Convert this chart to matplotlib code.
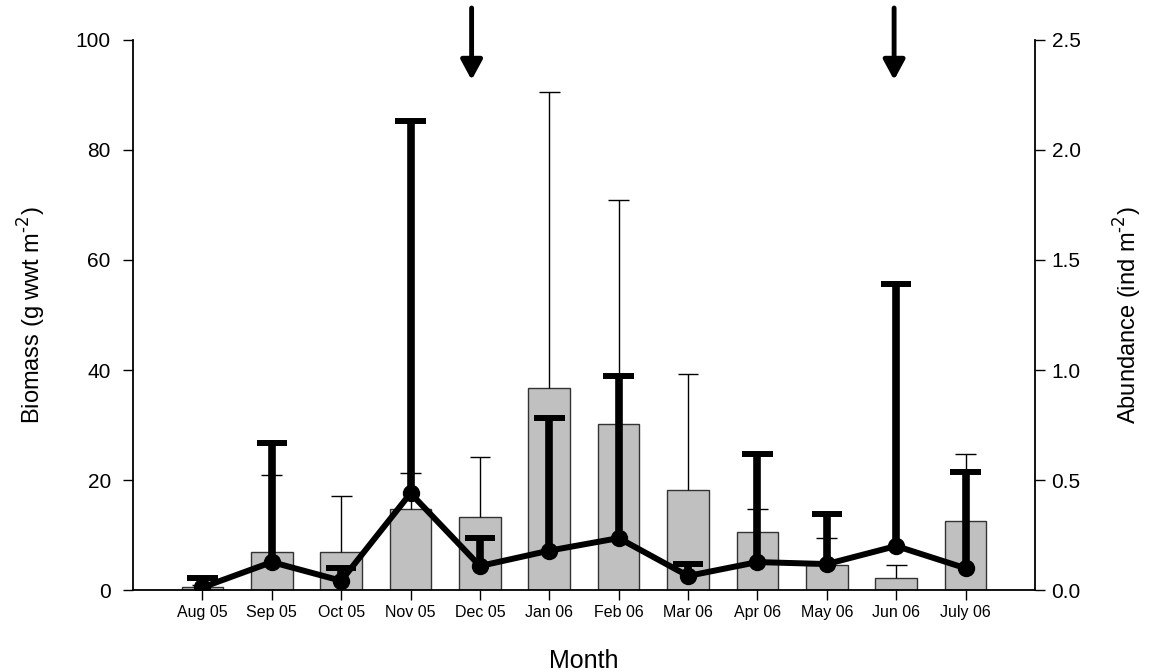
import matplotlib
matplotlib.use("Agg")
import matplotlib.pyplot as plt
import matplotlib.transforms as mtransforms
import numpy as np

## DATA
months = ["Aug 05", "Sep 05", "Oct 05", "Nov 05", "Dec 05", "Jan 06",
          "Feb 06", "Mar 06", "Apr 06", "May 06", "Jun 06", "July 06"]
biomass     = [0.6, 7.0, 6.9, 14.7, 13.2, 36.7, 30.1, 18.1, 10.5, 4.5, 2.1, 12.5]
biomass_err = [0.4, 13.9, 10.2, 6.6, 10.9, 53.9, 40.8, 21.2, 4.2, 4.9, 2.4, 12.3]
abundance     = [0.012, 0.127, 0.042, 0.44, 0.109, 0.179, 0.236, 0.064, 0.127, 0.118, 0.20, 0.099]
abundance_err = [0.043, 0.543, 0.058, 1.69, 0.129, 0.601, 0.739, 0.054, 0.493, 0.227, 1.19, 0.436]
arrow_months = [3.88, 9.97]  # sampling events marked above the plot
## / DATA

plt.rcParams['font.family'] = ['Liberation Sans', 'DejaVu Sans']


def upper_errorbars(axis, xs, means, errs, half_cap, lw, cap_lw, z):
    # one-sided (upper) error bars: stem from the mean plus a flat cap
    means = np.asarray(means); errs = np.asarray(errs)
    tops = means + errs
    axis.vlines(xs, means, tops, colors="black", linewidth=lw, zorder=z)
    axis.hlines(tops, xs - half_cap, xs + half_cap, colors="black",
                linewidth=cap_lw, zorder=z)


fig = plt.figure(figsize=(11.57, 6.72), dpi=100)
ax = fig.add_axes([0.115, 0.122, 0.7795, 0.8185])
x = np.arange(len(months))

# biomass bars with thin error bars
ax.bar(x, biomass, width=0.6, color="#c0c0c0", edgecolor="#333333", linewidth=1.0, zorder=2)
upper_errorbars(ax, x, biomass, biomass_err, 0.15, 1.0, 1.0, 3)

ax.set_xlim(-1, 12)
ax.set_ylim(0, 100)
ax.set_yticks([0, 20, 40, 60, 80, 100])
ax.set_xticks(x)
ax.set_xticklabels(months, fontsize=11.5)
ax.tick_params(axis="y", labelsize=15, length=7, width=1.0, direction="out", pad=9)
ax.tick_params(axis="x", length=7, width=1.0, direction="out", pad=4)
ax.set_ylabel("Biomass (g wwt m$^{\\text{-2}}$)", fontsize=17, labelpad=20)
ax.set_xlabel("Month", fontsize=18, labelpad=21)
for s in ["top", "right"]:
    ax.spines[s].set_visible(False)
ax.spines["left"].set_linewidth(1.3)
ax.spines["bottom"].set_linewidth(1.3)

# abundance on the right axis, thick error bars and line
ax2 = ax.twinx()
upper_errorbars(ax2, x, abundance, abundance_err, 0.22, 5.5, 4.3, 3)
ax2.plot(x, abundance, color="black", linewidth=4.3, marker="o", markersize=11.5, zorder=4)
ax2.set_ylim(0, 2.5)
ax2.set_yticks([0.0, 0.5, 1.0, 1.5, 2.0, 2.5])
ax2.set_yticklabels(["0.0", "0.5", "1.0", "1.5", "2.0", "2.5"])
ax2.tick_params(axis="y", labelsize=15, length=7, width=1.0, direction="out", pad=5)
ax2.set_ylabel("Abundance (ind m$^{\\text{-2}}$)", fontsize=17, labelpad=22)
for s in ["top", "left", "bottom"]:
    ax2.spines[s].set_visible(False)
ax2.spines["right"].set_linewidth(1.3)

# arrows above the plot area
trans = mtransforms.blended_transform_factory(ax.transData, fig.transFigure)
for m in arrow_months:
    ax.annotate("", xy=(m, 1 - 80 / 672), xytext=(m, 1 - 8 / 672),
                xycoords=trans, textcoords=trans, annotation_clip=False,
                arrowprops=dict(arrowstyle="-|>,head_width=0.65,head_length=1.2",
                                color="black", linewidth=3.5, shrinkA=0, shrinkB=0))

fig.savefig("out.png", dpi=100)
